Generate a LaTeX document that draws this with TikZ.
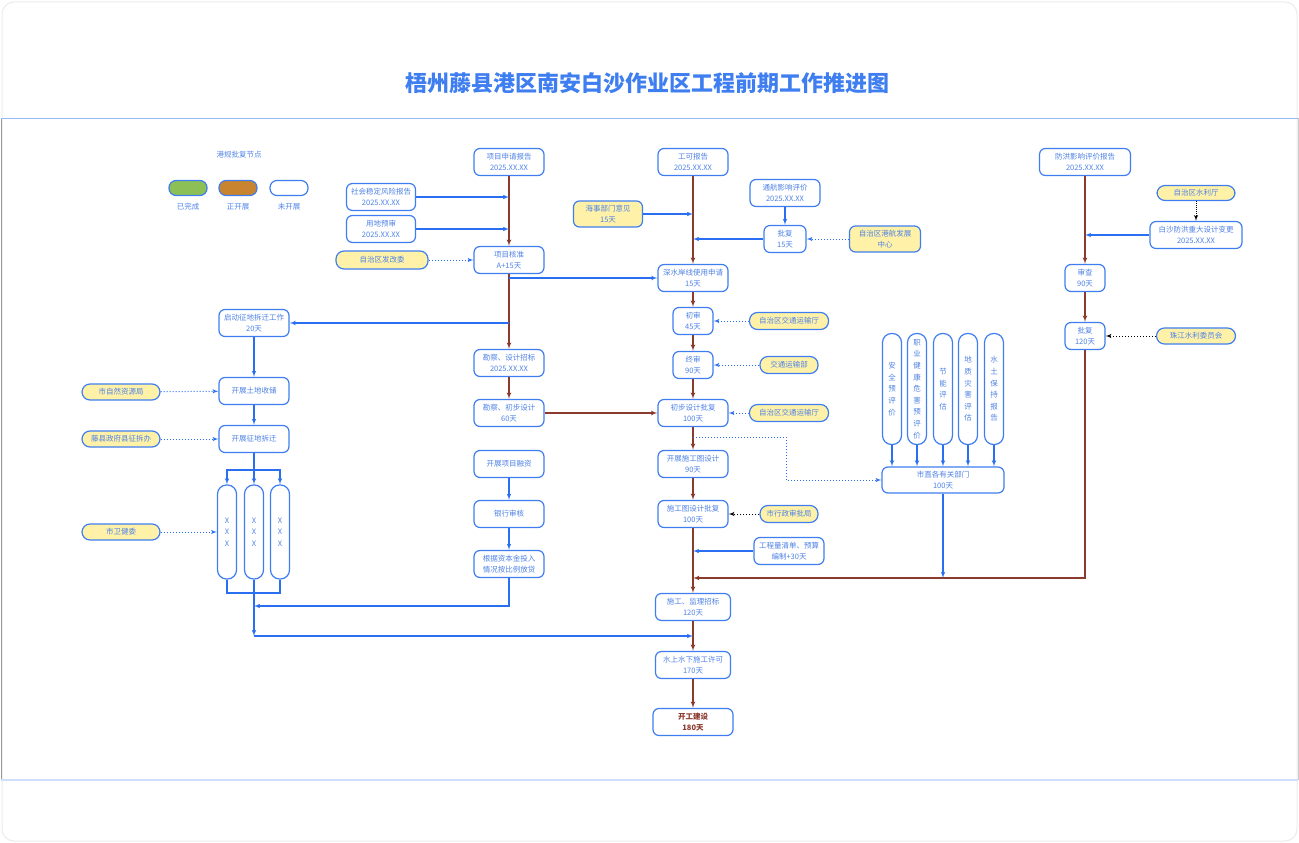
\documentclass[tikz,border=0pt]{standalone}
\usepackage{fontspec}
\setmainfont{Noto Sans CJK SC}
\usepackage{xcolor}
\usepackage{tikz}
\usetikzlibrary{shapes,arrows}
\definecolor{boxblue}{HTML}{3F7EF0}
\definecolor{txtblue}{HTML}{4F82E6}
\definecolor{lineblue}{HTML}{2A6FF2}
\definecolor{brownline}{HTML}{8B3A2E}
\definecolor{pillyellow}{HTML}{FFF2A8}
\definecolor{doneg}{HTML}{8CBF55}
\definecolor{doingo}{HTML}{C8842F}
\newcommand{\nf}{\fontsize{7.5}{11}\selectfont}
\newcommand{\vf}{\fontsize{7.5}{11.6}\selectfont}
\tikzstyle{block} = [rectangle, draw=boxblue, line width=1.2pt, rounded corners=6pt, fill=white, text=txtblue, align=center, minimum width=70pt, minimum height=27pt, inner sep=1pt, font=\nf]
\tikzstyle{pill} = [rectangle, draw=boxblue, line width=1.2pt, rounded corners=8pt, fill=pillyellow, text=txtblue, align=center, minimum width=78pt, minimum height=17pt, inner sep=1pt, font=\nf]
\tikzstyle{tall} = [rectangle, draw=boxblue, line width=1.2pt, rounded corners=9pt, fill=white, text=txtblue, align=center, minimum width=19pt, minimum height=111pt, inner sep=0pt, font=\vf]
\tikzstyle{key} = [rectangle, draw=boxblue, line width=1.2pt, rounded corners=7pt, minimum width=38pt, minimum height=15pt]
\tikzstyle{line} = [draw=lineblue, line width=1.1pt, -latex']
\tikzstyle{rline} = [draw=brownline, line width=1.2pt, -latex']
\tikzstyle{dline} = [draw=lineblue, line width=1pt, dotted, -latex']
\tikzstyle{kline} = [draw=black, line width=1pt, dotted, -latex']

\begin{document}
\begin{tikzpicture}[x=1pt,y=-1pt]
\useasboundingbox (0,0) rectangle (1299,843);
\draw[black!8, line width=1pt, rounded corners=12pt] (2,2) rectangle (1297,841);
\draw[black!40] (1,118) -- (1,780);
\draw[black!20] (1298,118) -- (1298,780);
\draw[boxblue!55, line width=1pt] (1,118) -- (1298,118);
\draw[boxblue!25, line width=1.5pt] (1,780) -- (1298,780);

\node (tt) at (647,83) {\fontsize{22}{22}\selectfont\bfseries\color{boxblue}梧州藤县港区南安白沙作业区工程前期工作推进图};

\node [font=\nf, text=txtblue] (lg) at (239,155) {港规批复节点};
\node [key, fill=doneg] (lg1) at (188,188) {};
\node [key, fill=doingo] (lg2) at (238,188) {};
\node [key, fill=white] (lg3) at (289,188) {};
\node [font=\nf, text=txtblue] (lg1t) at (188,207) {已完成};
\node [font=\nf, text=txtblue] (lg2t) at (238,207) {正开展};
\node [font=\nf, text=txtblue] (lg3t) at (289,207) {未开展};

\node [block] (p1) at (509,162) {项目申请报告\\2025.XX.XX};
\node [block, minimum width=69pt] (p2) at (381,197) {社会稳定风险报告\\2025.XX.XX};
\node [block, minimum width=69pt] (p3) at (381,229) {用地预审\\2025.XX.XX};
\node [pill, minimum width=92pt, minimum height=18pt] (p4) at (382,260) {自治区发改委};
\node [block] (p5) at (509,260) {项目核准\\A+15天};
\node [block] (p6) at (509,363) {勘察、设计招标\\2025.XX.XX};
\node [block] (p7) at (509,413) {勘察、初步设计\\60天};
\node [block] (p8) at (509,464) {开展项目融资};
\node [block] (p9) at (509,514) {银行审核};
\node [block] (p10) at (509,564) {根据资本金投入\\情况按比例放贷};
\path [rline] (p1) -- (p5);
\path [rline] (p5) -- (p6);
\path [rline] (p6) -- (p7);
\path [line] (p2.east) -- (p2 -| p1);
\path [line] (p3.east) -- (p3 -| p1);
\path [dline] (p4) -- (p5);
\path [line] (p8) -- (p9);
\path [line] (p9) -- (p10);

\node [block] (q1) at (254,323) {启动征地拆迁工作\\20天};
\node [block] (q2) at (254,391) {开展土地收储};
\node [pill, minimum height=16pt] (q3) at (121,392) {市自然资源局};
\node [block] (q4) at (254,439) {开展征地拆迁};
\node [pill, minimum height=16pt] (q5) at (121,439) {藤县政府县征拆办};
\node [tall, minimum height=94pt] (q6) at (227,532) {X\\X\\X};
\node [tall, minimum height=94pt] (q7) at (254,532) {X\\X\\X};
\node [tall, minimum height=94pt] (q8) at (280,532) {X\\X\\X};
\node [pill, minimum height=16pt] (q9) at (121,532) {市卫健委};
\coordinate (f1) at (254,470);
\coordinate (f2) at (254,593);
\coordinate (f3) at (254,636);
\coordinate (f4) at (254,606);
\path [line] (p1 |- q1) -- (q1.east);
\path [line] (q1) -- (q2);
\path [line] (q2) -- (q4);
\path [dline] (q3) -- (q2);
\path [dline] (q5) -- (q4);
\path [dline] (q9) -- (q6);
\draw [lineblue, line width=1.1pt] (q4.south) -- (f1);
\path [line] (f1) -- (q7.north);
\path [line] (f1) -| (q6.north);
\path [line] (f1) -| (q8.north);
\draw [lineblue, line width=1.1pt] (q6.south) |- (f2) -| (q8.south);
\draw [lineblue, line width=1.1pt] (q7.south) -- (f2);
\path [line] (f2) -- (f3);
\path [line] (p10.south) |- (f4);

\node [block] (r1) at (693,162) {工可报告\\2025.XX.XX};
\node [block, fill=pillyellow, minimum width=69pt, minimum height=26pt] (r2) at (608,214) {海事部门意见\\15天};
\node [block] (r3) at (785,193) {通航影响评价\\2025.XX.XX};
\node [block, minimum width=42pt] (r4) at (785,239) {批复\\15天};
\node [block, fill=pillyellow, minimum width=71pt, minimum height=26pt] (r5) at (885,239) {自治区港航发展\\中心};
\node [block] (r6) at (693,278) {深水岸线使用申请\\15天};
\node [block, minimum width=40pt] (r7) at (693,321) {初审\\45天};
\node [pill, minimum width=79pt] (r8) at (789,321) {自治区交通运输厅};
\node [block, minimum width=40pt] (r9) at (693,365) {终审\\90天};
\node [pill, minimum width=58pt] (r10) at (789,365) {交通运输部};
\node [block] (r11) at (693,413) {初步设计批复\\100天};
\node [pill, minimum width=79pt] (r12) at (789,413) {自治区交通运输厅};
\node [block] (r13) at (693,464) {开展施工图设计\\90天};
\node [block] (r14) at (693,514) {施工图设计批复\\100天};
\node [pill, minimum width=58pt] (r15) at (789,514) {市行政审批局};
\node [block] (r16) at (789,551) {工程量清单、预算\\编制+30天};
\node [block, minimum width=75pt] (r17) at (693,607) {施工、监理招标\\120天};
\node [block, minimum width=75pt] (r18) at (693,665) {水上水下施工许可\\170天};
\node [block, minimum width=80pt, text=brownline] (r19) at (693,722) {\bfseries 开工建设\\\bfseries 180天};
\coordinate (m) at (693,578);
\coordinate (d1) at (693,437);
\path [rline] (r1) -- (r6);
\path [rline] (r6) -- (r7);
\path [rline] (r7) -- (r9);
\path [rline] (r9) -- (r11);
\path [rline] (r11) -- (r13);
\path [rline] (r13) -- (r14);
\path [rline] (r14) -- (r17);
\path [rline] (r17) -- (r18);
\path [rline] (r18) -- (r19);
\path [rline] (p7) -- (r11);
\path [line] (p5.south |- r6) -- (r6.west);
\path [line] (r2.east) -- (r2 -| r1);
\path [line] (r3) -- (r4);
\path [dline] (r5) -- (r4);
\path [line] (r4.west) -- (r4 -| r1);
\path [dline] (r8) -- (r7);
\path [dline] (r10) -- (r9);
\path [dline] (r12) -- (r11);
\path [kline] (r15) -- (r14);
\path [line] (r16.west) -- (r16 -| r14);
\path [line] (f3) -- (f3 -| r18);

\node [block, minimum width=91pt] (s1) at (1085,162) {防洪影响评价报告\\2025.XX.XX};
\node [pill, minimum height=15pt] (s2) at (1196,193) {自治区水利厅};
\node [block, minimum width=92pt] (s3) at (1196,235) {白沙防洪重大设计变更\\2025.XX.XX};
\node [block, minimum width=40pt] (s4) at (1085,278) {审查\\90天};
\node [block, minimum width=40pt] (s5) at (1085,336) {批复\\120天};
\node [pill, minimum width=79pt, minimum height=16pt] (s6) at (1196,336) {珠江水利委员会};
\path [rline] (s1) -- (s4);
\path [rline] (s4) -- (s5);
\path [rline] (s5.south) |- (m);
\path [kline, densely dotted] (s2) -- (s3);
\path [line] (s3.west) -- (s3 -| s1);
\path [kline] (s6) -- (s5);

\node [tall] (t1) at (892,389) {安\\全\\预\\评\\价};
\node [tall] (t2) at (917,389) {职\\业\\健\\康\\危\\害\\预\\评\\价};
\node [tall] (t3) at (943,389) {节\\能\\评\\估};
\node [tall] (t4) at (968,389) {地\\质\\灾\\害\\评\\估};
\node [tall] (t5) at (994,389) {水\\土\\保\\持\\报\\告};
\node [block, minimum width=122pt, minimum height=26pt] (t6) at (943,480) {市直各有关部门\\100天};
\path [line] (t1) -- (t1 |- t6.north);
\path [line] (t2) -- (t2 |- t6.north);
\path [line] (t3) -- (t6);
\path [line] (t4) -- (t4 |- t6.north);
\path [line] (t5) -- (t5 |- t6.north);
\path [line] (t6.south) -- (t6.south |- m);
\path [dline] (d1) -- ++(93,0) |- (t6.west);
\end{tikzpicture}
\end{document}
